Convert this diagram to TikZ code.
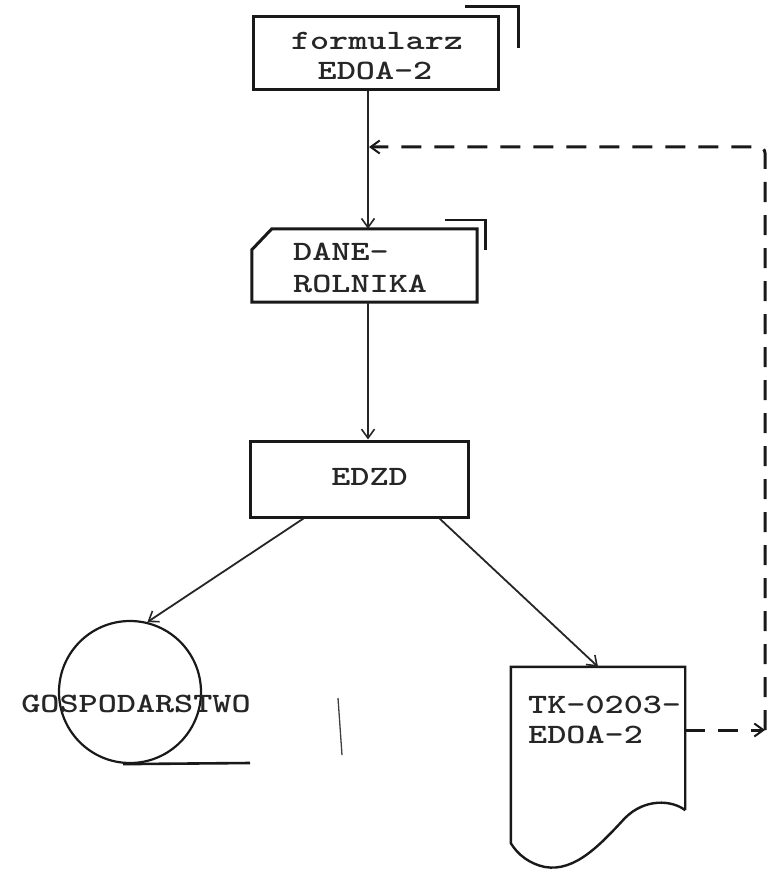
\documentclass[tikz,border=0pt]{standalone}
\usepackage{graphicx}
\usetikzlibrary{arrows.meta,calc}
% typewriter lettering, widened a little
\newcommand\tw[1]{\scalebox{1.3}[1]{#1}}
\begin{document}
\begin{tikzpicture}[x=1pt,y=-1pt,
  boxshape/.style={rectangle, inner sep=0pt, line width=3pt, draw=black!90},
  txt/.style={font=\fontsize{28}{30}\selectfont\ttfamily\bfseries, text=black!85, inner sep=0pt},
  conn/.style={line width=1.8pt, draw=black!85,
    -{Straight Barb[length=9pt,width=13pt,line width=1.6pt]}},
  fb/.style={line width=3pt, draw=black!90, dash pattern=on 20pt off 13pt},
  fbtip/.style={-{Straight Barb[length=9pt,width=13pt,line width=2pt]}},
  cornermark/.style={line width=2.6pt, draw=black!90},
]
\useasboundingbox (0,0) rectangle (768,869);
\fill[white] (0,0) rectangle (768,869);

% vertical axis of the flow
\coordinate (spine) at (368,0);

% input form
\node[boxshape, minimum width=245pt, minimum height=73pt] (form) at (375.5,53.5) {};
\node[txt, anchor=base] (formt1) at (377,50) {\tw{formularz}};
\node[txt, anchor=base] (formt2) at (375,80) {\tw{EDOA-2}};
\draw[cornermark] ($(form.north east)+(-35,-9)$) -- ++(54,0) -- ++(0,42);

% data file (card with cut corner)
\node[rectangle, inner sep=0pt, minimum width=225pt, minimum height=73pt] (dane) at (364.5,265.5) {};
\draw[line width=3pt, draw=black!90]
  ($(dane.north west)+(20,0)$) -- (dane.north east) -- (dane.south east)
  -- (dane.south west) -- ($(dane.north west)+(0,21)$) -- cycle;
\node[txt, anchor=base west] (danet1) at (293,260) {\tw{DANE-}};
\node[txt, anchor=base west] (danet2) at (293,292) {\tw{ROLNIKA}};
\draw[cornermark] ($(dane.north east)+(-32,-9)$) -- ++(40,0) -- ++(0,30);

% processing step
\node[boxshape, minimum width=218pt, minimum height=76pt] (edzd) at (359,479) {};
\node[txt, anchor=base] (edzdt) at (369.5,485) {\tw{EDZD}};

% storage: circle with tape line
\node[circle, inner sep=0pt, minimum size=142pt, line width=2.2pt, draw=black!90] (gosp) at (130,692) {};
\coordinate (tapeend) at (250,763);
\draw[line width=2.6pt, draw=black!90] ($(gosp.south)+(-7,0)$) -- (tapeend);
\node[txt, anchor=base] (gospt) at (136,712) {\tw{GOSPODARSTWO}};

% printed document
\node[rectangle, inner sep=0pt, minimum width=174pt, minimum height=143pt] (tk) at (598,738.5) {};
\draw[line width=2.4pt, draw=black!90]
  (tk.south east) -- (tk.north east) -- (tk.north west) -- ($(tk.south west)+(0,33)$)
  .. controls (518,855) and (530,864) .. (545,867)
  .. controls (575,872) and (600,845) .. (625,818)
  .. controls (645,798) and (672,800) .. (tk.south east);
\node[txt, anchor=base west] (tkt1) at (528,713) {\tw{TK-0203-}};
\node[txt, anchor=base west] (tkt2) at (528,743) {\tw{EDOA-2}};

% flow lines
\draw[conn] (form.south -| spine) -- (dane.north -| spine);
\draw[conn] (dane.south -| spine) -- (edzd.north -| spine);
\draw[conn] ($(edzd.south west)+(55,0)$) -- (gosp.76);
\draw[conn] ($(edzd.south east)+(-30,0)$) -- (tk.north);

% feedback loop
\coordinate (loopr) at (765,730);
\coordinate (loopt) at (765,147);
\coordinate (join) at (spine |- loopt);
\draw[fb, fbtip] (tk.east |- loopr) -- (loopr);
\draw[fb, fbtip, rounded corners=6pt] (loopr) -- (loopt) -- ($(join)+(1,0)$);

% stray pencil stroke
\draw[line width=1.3pt, draw=black!75] (338,698) -- (342,755);
\end{tikzpicture}
\end{document}
